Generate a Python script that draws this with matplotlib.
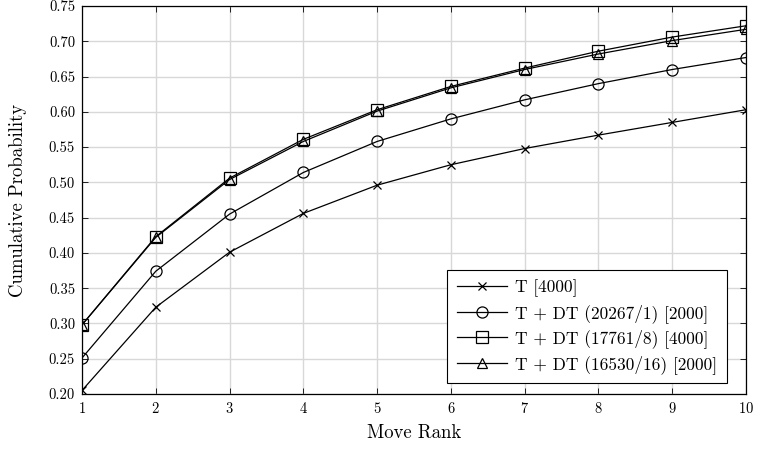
import numpy as np
import matplotlib
matplotlib.use("Agg")
from matplotlib import pyplot as plt

# Data
rank = [1, 2, 3, 4, 5, 6, 7, 8, 9, 10]
t_4000 = [0.205, 0.323, 0.401, 0.456, 0.496, 0.525, 0.548, 0.567, 0.585, 0.603]
dt_20267 = [0.251, 0.374, 0.455, 0.514, 0.558, 0.590, 0.617, 0.640, 0.660, 0.677]
dt_17761 = [0.298, 0.423, 0.506, 0.561, 0.603, 0.636, 0.662, 0.686, 0.706, 0.722]
dt_16530 = [0.298, 0.422, 0.504, 0.558, 0.601, 0.634, 0.660, 0.682, 0.701, 0.717]
labels = ["T [4000]", "T + DT (20267/1) [2000]",
          "T + DT (17761/8) [4000]", "T + DT (16530/16) [2000]"]
yticks = [0.20, 0.25, 0.30, 0.35, 0.40, 0.45, 0.50, 0.55, 0.60, 0.65, 0.70, 0.75]

plt.rcParams['font.family'] = ['cmr10', 'DejaVu Serif']
plt.rcParams['axes.formatter.use_mathtext'] = True
plt.rcParams['mathtext.fontset'] = 'cm'

fig = plt.figure(figsize=(7.57, 4.49), dpi=100)
ax = fig.add_axes([0.1083, 0.1225, 0.8772, 0.8641])

series = [t_4000, dt_20267, dt_17761, dt_16530]
markers = ['x', 'o', 's', '^']
sizes = [6, 8, 8, 7]
for vals, m, s, lab in zip(series, markers, sizes, labels):
    ax.plot(rank, vals, color="black", linewidth=0.9, marker=m, markersize=s,
            markerfacecolor="none", markeredgecolor="black", markeredgewidth=0.9,
            label=lab)

ax.set_xlim(1, 10)
ax.set_ylim(0.20, 0.75)
ax.set_xticks(rank)
ax.set_yticks(yticks)
ax.set_yticklabels(["%.2f" % v for v in yticks])
ax.tick_params(direction="in", top=True, right=True, labelsize=10.5, length=4,
               width=0.6, pad=5)
ax.grid(color="#d8d8d8", linewidth=1.0)
ax.set_axisbelow(True)
for sp in ax.spines.values():
    sp.set_linewidth(0.9)

ax.set_xlabel("Move Rank", fontsize=13.5, labelpad=6)
ax.set_ylabel("Cumulative Probability", fontsize=13.5, labelpad=16)

leg = ax.legend(loc="lower right", bbox_to_anchor=(0.971, 0.028), borderaxespad=0,
                fontsize=12.5, fancybox=False, edgecolor="black", framealpha=1,
                handlelength=2.9, handletextpad=0.45, labelspacing=0.38,
                borderpad=0.55)
leg.get_frame().set_linewidth(0.8)

fig.savefig("out.png", dpi=100)
